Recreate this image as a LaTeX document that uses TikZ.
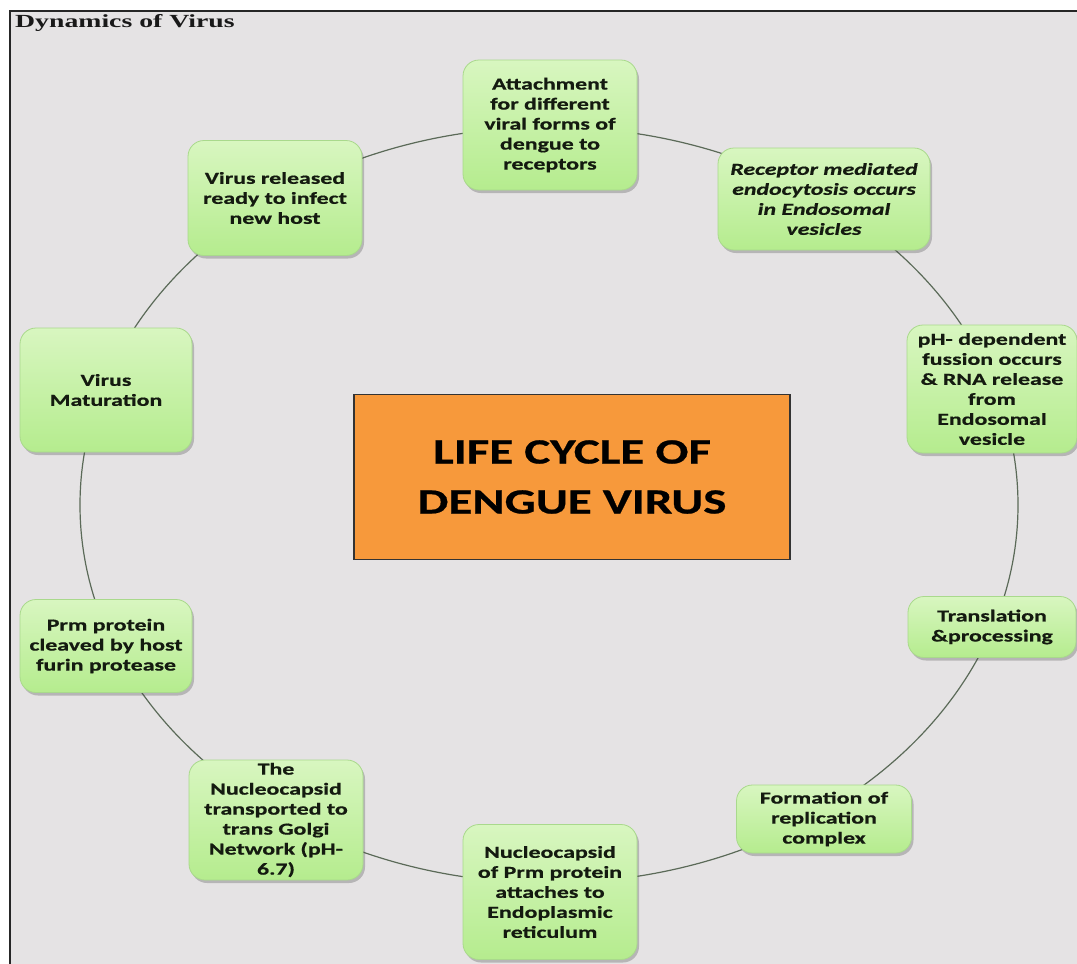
\documentclass[tikz,border=0pt]{standalone}
\usepackage{fontspec}
\setmainfont{Carlito}
\newfontfamily\boxfont{Carlito}[FakeStretch=1.42,FakeBold=0.6]
\newfontfamily\bigfont{Carlito}[FakeStretch=1.38,FakeBold=0.6]
\newfontfamily\titlefont{Liberation Serif}[FakeStretch=1.5]
\usetikzlibrary{shadows}
\definecolor{bg}{HTML}{E5E3E4}
\definecolor{gtop}{HTML}{D8F6C0}
\definecolor{gbot}{HTML}{B5EC8E}
\definecolor{gedge}{HTML}{A9D98C}
\definecolor{txt}{HTML}{141A10}
\definecolor{ring}{HTML}{5B6A58}
\definecolor{orangebox}{HTML}{F7993B}
\tikzset{
  greenbox/.style={rounded corners=16pt, top color=gtop, bottom color=gbot,
    draw=gedge, line width=0.8pt,
    drop shadow={shadow xshift=2pt, shadow yshift=-3pt, opacity=0.3, fill=black!70},
    align=center, text=txt, inner sep=0pt,
    font=\boxfont\bfseries\fontsize{16.8}{20}\selectfont},
  centerbox/.style={fill=orangebox, draw=black!80, line width=1.5pt, align=center,
    text=black, inner sep=0pt,
    font=\bigfont\bfseries\fontsize{35.5}{50}\selectfont},
  ringline/.style={draw=ring, line width=1.2pt}
}
\begin{document}
\begin{tikzpicture}[x=1pt,y=-1pt]
\useasboundingbox (0,0) rectangle (1077,964);
\fill[white] (0,0) rectangle (1077,964);
\fill[bg] (10,11) rectangle (1077,964);
\draw[line width=2.5pt, color=black!85] (10,964) -- (10,11) -- (1077,11);
\node[anchor=base west, inner sep=0pt, text=black!90,
  font=\titlefont\bfseries\fontsize{18.5}{21}\selectfont] (title) at (15,27) {Dynamics of Virus};

\draw[ringline] (549,505) ellipse [x radius=469, y radius=378];

\node[centerbox, minimum width=436pt, minimum height=165pt] (center) at (572,477)
  {LIFE CYCLE OF\\DENGUE VIRUS};

\node[greenbox, minimum width=174pt, minimum height=130pt] (attach) at (550,125)
  {Attachment\\for different\\viral forms of\\dengue to\\receptors};
\node[greenbox, minimum width=212pt, minimum height=102pt] (endo) at (824,199)
  {\itshape Receptor mediated\\\itshape endocytosis occurs\\\itshape in Endosomal\\\itshape vesicles};
\node[greenbox, minimum width=170pt, minimum height=128pt] (fusion) at (992,389)
  {pH- dependent\\fussion occurs\\\& RNA release\\from\\Endosomal\\vesicle};
\node[greenbox, minimum width=168pt, minimum height=61pt] (transl) at (992,627)
  {Translation\\\&processing};
\node[greenbox, minimum width=175pt, minimum height=68pt] (replic) at (824,819)
  {Formation of\\replication\\complex};
\node[greenbox, minimum width=174pt, minimum height=135pt] (er) at (550,892)
  {Nucleocapsid\\of Prm protein\\attaches to\\Endoplasmic\\reticulum};
\node[greenbox, minimum width=174pt, minimum height=120pt] (golgi) at (276,820)
  {The\\Nucleocapsid\\transported to\\trans Golgi\\Network (pH-\\6.7)};
\node[greenbox, minimum width=172pt, minimum height=93pt] (furin) at (106,646)
  {Prm protein\\cleaved by host\\furin protease};
\node[greenbox, minimum width=172pt, minimum height=124pt] (matur) at (106,390)
  {Virus\\Maturation};
\node[greenbox, minimum width=174pt, minimum height=115pt] (release) at (275,198)
  {Virus released\\ready to infect\\new host};
\end{tikzpicture}
\end{document}
